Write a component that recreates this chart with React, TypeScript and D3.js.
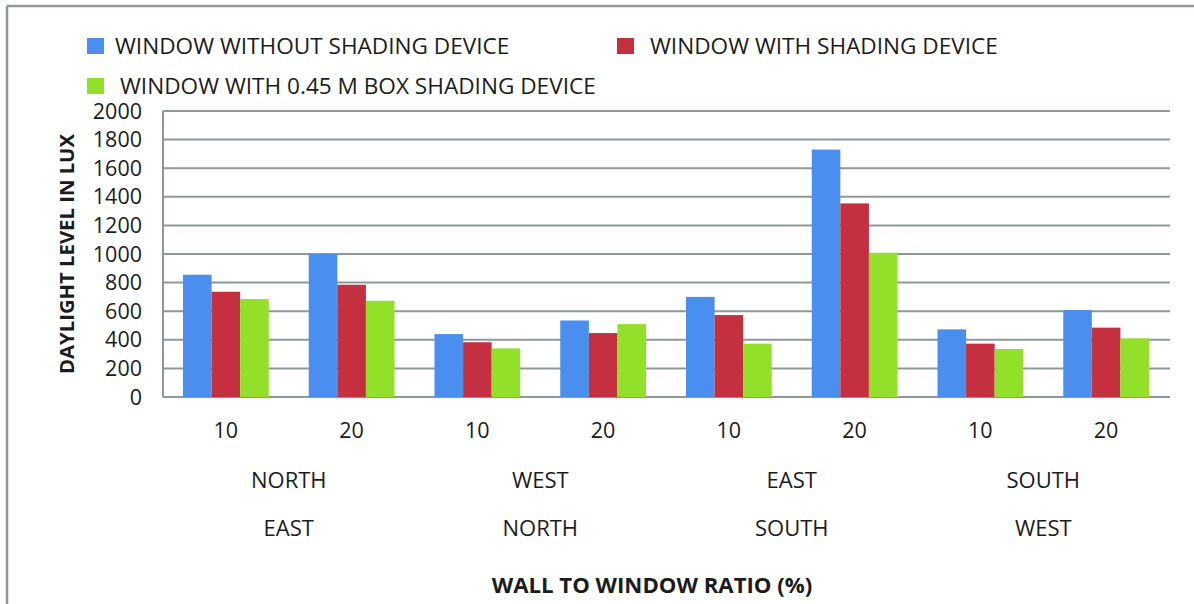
import { useEffect, useRef } from "react";
import * as d3 from "d3";

const SERIES = [
  "WINDOW WITHOUT SHADING DEVICE",
  "WINDOW WITH SHADING DEVICE",
  "WINDOW WITH 0.45 M BOX SHADING DEVICE",
];
const COLORS = ["#4a8ff0", "#c4303f", "#93e02a"];

const RATIOS = ["10", "20", "10", "20", "10", "20", "10", "20"];
const ORIENTATIONS = [
  ["NORTH", "EAST"],
  ["WEST", "NORTH"],
  ["EAST", "SOUTH"],
  ["SOUTH", "WEST"],
];

const WITHOUT = [855, 1000, 440, 535, 700, 1730, 473, 608];
const WITH = [736, 785, 383, 447, 573, 1354, 373, 485];
const BOX = [685, 673, 340, 510, 373, 1009, 336, 410];

const Y_TICKS = [0, 200, 400, 600, 800, 1000, 1200, 1400, 1600, 1800, 2000];

const FONT = "'Open Sans', 'Liberation Sans', sans-serif";
const INK = "#1c1c1c";

export default function App() {
  const ref = useRef<SVGSVGElement>(null);

  useEffect(() => {
    document.body.style.margin = "0";
    if (!ref.current) return;
    const w = 1194;
    const h = 604;
    const m = { top: 111, right: 25, bottom: 207, left: 163 };

    const svg = d3.select(ref.current);
    svg.selectAll("*").remove();
    svg.attr("width", w).attr("height", h).attr("viewBox", `0 0 ${w} ${h}`);

    svg.append("rect").attr("width", w).attr("height", h).attr("fill", "#fff");
    // frame (top + left only visible)
    svg.append("line").attr("x1", 7).attr("x2", w).attr("y1", 6).attr("y2", 6).attr("stroke", "#8e9a9a").attr("stroke-width", 2.5);
    svg.append("line").attr("x1", 7).attr("x2", 7).attr("y1", 6).attr("y2", h).attr("stroke", "#8e9a9a").attr("stroke-width", 2.5);

    const data = RATIOS.map((r, i) => ({ i, vals: [WITHOUT[i], WITH[i], BOX[i]] }));

    const x = d3.scaleBand<number>().domain(data.map((d) => d.i)).range([m.left, w - m.right]);
    const xs = d3.scaleBand<number>().domain([0, 1, 2]).range([0, x.bandwidth()]).paddingOuter(0.7);
    const y = d3.scaleLinear().domain([0, 2000]).range([h - m.bottom, m.top]);

    // gridlines
    svg
      .append("g")
      .selectAll("line")
      .data(Y_TICKS)
      .join("line")
      .attr("x1", m.left)
      .attr("x2", w - m.right + 1)
      .attr("y1", (d) => y(d))
      .attr("y2", (d) => y(d))
      .attr("stroke", "#8e9a9a")
      .attr("stroke-width", 2);
    svg.append("line").attr("x1", m.left).attr("x2", m.left).attr("y1", y(2000)).attr("y2", y(0)).attr("stroke", "#8e9a9a").attr("stroke-width", 2);

    // bars
    const g = svg.append("g").selectAll("g").data(data).join("g").attr("transform", (d) => `translate(${x(d.i)},0)`);
    g.selectAll("rect")
      .data((d) => d.vals.map((v, s) => ({ v, s })))
      .join("rect")
      .attr("x", (d) => xs(d.s)!)
      .attr("width", xs.bandwidth())
      .attr("y", (d) => y(d.v))
      .attr("height", (d) => y(0) - y(d.v))
      .attr("fill", (d) => COLORS[d.s]);

    // y tick labels
    svg
      .append("g")
      .selectAll("text")
      .data(Y_TICKS)
      .join("text")
      .attr("x", 142)
      .attr("y", (d) => y(d) + 7.5)
      .attr("text-anchor", "end")
      .attr("font-family", FONT)
      .attr("font-size", 21.5)
      .attr("fill", INK)
      .text((d) => d);

    // x tick labels
    svg
      .append("g")
      .selectAll("text")
      .data(data)
      .join("text")
      .attr("x", (d) => x(d.i)! + x.bandwidth() / 2)
      .attr("y", 438)
      .attr("text-anchor", "middle")
      .attr("font-family", FONT)
      .attr("font-size", 21.5)
      .attr("fill", INK)
      .text((d) => RATIOS[d.i]);

    ORIENTATIONS.forEach((lines, k) => {
      const cx = x(k * 2)! + x.bandwidth();
      lines.forEach((t, j) => {
        svg
          .append("text")
          .attr("x", cx)
          .attr("y", 488 + j * 48)
          .attr("text-anchor", "middle")
          .attr("font-family", FONT)
          .attr("font-size", 22)
          .attr("fill", INK)
          .text(t);
      });
    });

    // axis titles
    svg
      .append("text")
      .attr("x", 652)
      .attr("y", 593)
      .attr("text-anchor", "middle")
      .attr("font-family", FONT)
      .attr("font-size", 22.2)
      .attr("font-weight", "bold")
      .attr("fill", INK)
      .text("WALL TO WINDOW RATIO (%)");
    svg
      .append("text")
      .attr("transform", `translate(74,254) rotate(-90)`)
      .attr("text-anchor", "middle")
      .attr("font-family", FONT)
      .attr("font-size", 20.3)
      .attr("font-weight", "bold")
      .attr("fill", INK)
      .text("DAYLIGHT LEVEL IN LUX");

    // legend
    const legendPos = [
      { x: 87, y: 38, tx: 115 },
      { x: 617, y: 38, tx: 650 },
      { x: 87, y: 78, tx: 120 },
    ];
    SERIES.forEach((s, i) => {
      const p = legendPos[i];
      svg.append("rect").attr("x", p.x).attr("y", p.y).attr("width", 17).attr("height", 16).attr("fill", COLORS[i]);
      svg
        .append("text")
        .attr("x", p.tx)
        .attr("y", p.y + 16)
        .attr("font-family", FONT)
        .attr("font-size", 22.6)
        .attr("fill", INK)
        .text(s);
    });
  }, []);

  return <svg ref={ref} style={{ display: "block" }} />;
}
